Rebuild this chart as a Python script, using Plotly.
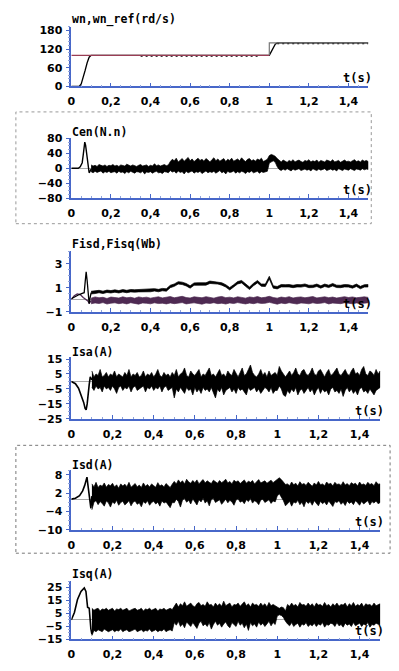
import numpy as np
import plotly.graph_objects as go

W, H = 399, 671

# ---------------- data ----------------
x_ticks = [0, 0.2, 0.4, 0.6, 0.8, 1.0, 1.2, 1.4]
x_labels = ["0", "0,2", "0,4", "0,6", "0,8", "1", "1,2", "1,4"]

# speed
t_wn = [0, 0.04, 0.05, 0.06, 0.07, 0.08, 0.09, 0.10, 1.00, 1.01, 1.02, 1.03, 1.04, 1.50]
wn = [0, 0, 8, 27, 52, 76, 94, 100, 100, 112, 126, 136, 140, 140]
t_ref = [0, 1.0, 1.0, 1.5]
wn_ref = [100, 100, 140, 140]
t_ripple = [0.35, 0.95, None, 1.04, 1.5]
wn_ripple = [98, 98, None, 138.5, 138.5]

# sample times of the noise envelopes
t_band = np.round(np.linspace(0.10, 1.50, 71), 2)    # flux envelopes
t_fine = np.round(np.linspace(0.10, 1.50, 141), 2)   # torque / current envelopes

# Cen
t_cen_tr = [0, 0.035, 0.045, 0.055, 0.06, 0.065, 0.068, 0.072, 0.078, 0.083, 0.087, 0.09, 0.095, 0.10]
cen_tr = [0, 0, 4, 15, 35, 55, 70, 62, 40, 20, 0, -12, -8, -2]
cen_up = [9, 6, 8, 5, 10, 7, 6, 9, 5, 8, 7, 10, 6, 8, 5, 9, 7, 6, 11, 8,
          6, 9, 7, 5, 8, 10, 6, 7, 9, 5, 8, 6, 12, 7, 9, 6, 8, 10, 7, 9,
          18, 24, 20, 27, 17, 22, 26, 19, 23, 29, 20, 25, 18, 22, 27, 21, 24, 19, 26, 22,
          17, 23, 28, 20, 25, 19, 22, 26, 18, 24, 21, 27, 19, 23, 25, 20, 28, 22, 18, 24,
          26, 20, 23, 19, 25, 22, 27, 18, 21, 24,
          34, 37, 35, 32, 26,
          20, 17, 22, 19, 16, 21, 18, 23, 17, 20, 22, 18, 16, 21, 19, 23, 17, 20, 18, 22,
          16, 21, 19, 17, 22, 20, 18, 23, 17, 19, 21, 16, 20, 22, 18, 19, 17, 21, 23, 18,
          20, 17, 22, 19, 21, 18]
cen_lo = [-9, -12, -8, -11, -10, -7, -13, -9, -11, -8, -12, -10, -9, -13, -8, -11, -10, -14, -9, -12,
          -8, -11, -13, -9, -10, -12, -8, -15, -10, -11, -9, -13, -10, -8, -12, -11, -14, -9, -10, -12,
          -6, -10, -8, -13, -7, -11, -9, -15, -8, -12, -10, -7, -13, -9, -11, -8, -14, -10, -7, -12,
          -9, -11, -8, -13, -10, -6, -12, -9, -15, -8, -11, -10, -7, -13, -9, -12, -8, -10, -14, -9,
          -11, -7, -12, -10, -8, -13, -9, -11, -10, -8,
          14, 18, 20, 16, 4,
          -3, -6, -2, -5, -1, -4, -7, -2, -5, -3, -1, -6, -4, -2, -5, -3, -7, -1, -4, -6,
          -2, -5, -3, -1, -6, -4, -2, -5, -3, -7, -1, -4, -6, -2, -3, -5, -1, -4, -6, -2,
          -3, -5, -1, -4, -2, -3]

# Fisd / Fisq
t_fisd_tr = [0, 0.02, 0.04, 0.055, 0.065, 0.07, 0.075, 0.08, 0.085, 0.09, 0.095, 0.10]
fisd_tr = [0.1, 0.3, 0.45, 0.55, 0.6, 1.5, 2.35, 1.6, 0.3, -0.3, 0.2, 0.6]
t_fisq_tr = [0, 0.015, 0.03, 0.045, 0.06, 0.075, 0.085, 0.09, 0.095, 0.10]
fisq_tr = [0.05, 0.35, 0.5, 0.45, 0.2, 0.05, -0.1, -0.3, -0.1, -0.05]
fisd_up = [0.72, 0.73, 0.80, 0.73, 0.82, 0.78, 0.84, 0.78, 0.86, 0.80, 0.87, 0.85, 0.87, 0.86, 0.89, 0.88, 0.94, 0.88, 0.96, 0.93,
           1.22, 1.33, 1.52, 1.48, 1.37, 1.18, 1.42, 1.43, 1.42, 1.43, 1.57, 1.53, 1.52, 1.43, 1.27, 1.03, 1.27, 1.53, 1.62, 1.33, 1.07, 1.38, 1.62, 1.33, 1.32,
           1.97, 1.18, 1.12,
           1.28, 1.27, 1.28, 1.22, 1.28, 1.27, 1.33, 1.22, 1.23, 1.32, 1.18, 1.32, 1.23, 1.37, 1.23, 1.22, 1.28, 1.27, 1.18, 1.32, 1.13, 1.27, 1.28]
fisd_lo = [0.50, 0.53, 0.60, 0.53, 0.62, 0.58, 0.64, 0.58, 0.66, 0.60, 0.67, 0.65, 0.67, 0.66, 0.69, 0.68, 0.74, 0.68, 0.76, 0.73,
           1.02, 1.13, 1.32, 1.28, 1.17, 0.98, 1.22, 1.23, 1.22, 1.23, 1.37, 1.33, 1.32, 1.23, 1.07, 0.83, 1.07, 1.33, 1.42, 1.13, 0.87, 1.18, 1.42, 1.13, 1.12,
           1.75, 0.98, 0.92,
           1.08, 1.07, 1.08, 1.02, 1.08, 1.07, 1.13, 1.02, 1.03, 1.12, 0.98, 1.12, 1.03, 1.17, 1.03, 1.02, 1.08, 1.07, 0.98, 1.12, 0.93, 1.07, 1.08]
fisq_up = [0.15, 0.25, 0.18, 0.22, 0.12, 0.24, 0.20, 0.16, 0.26, 0.18, 0.22, 0.14, 0.25, 0.19, 0.23, 0.15, 0.21, 0.26, 0.17, 0.22,
           0.28, 0.18, 0.24, 0.30, 0.20, 0.16, 0.26, 0.22, 0.18, 0.27, 0.21, 0.15, 0.24, 0.29, 0.19, 0.23, 0.17, 0.26, 0.21, 0.15, 0.25, 0.20, 0.28, 0.18, 0.22,
           0.30, 0.20, 0.15,
           0.24, 0.19, 0.27, 0.16, 0.22, 0.25, 0.18, 0.23, 0.28, 0.17, 0.21, 0.26, 0.19, 0.24, 0.16, 0.22, 0.27, 0.20, 0.25, 0.18, 0.23, 0.26, 0.21]
fisq_lo = [-0.32, -0.25, -0.30, -0.22, -0.34, -0.27, -0.24, -0.31, -0.26, -0.33, -0.23, -0.29, -0.35, -0.25, -0.28, -0.32, -0.24, -0.30, -0.27, -0.33,
           -0.25, -0.31, -0.27, -0.22, -0.33, -0.28, -0.24, -0.30, -0.35, -0.26, -0.29, -0.23, -0.31, -0.27, -0.34, -0.25, -0.30, -0.22, -0.28, -0.33, -0.26, -0.31, -0.24, -0.29, -0.27,
           -0.20, -0.30, -0.35,
           -0.26, -0.31, -0.23, -0.29, -0.34, -0.25, -0.28, -0.32, -0.24, -0.30, -0.27, -0.22, -0.33, -0.26, -0.29, -0.31, -0.24, -0.28, -0.32, -0.25, -0.30, -0.27, -0.23]

# Isa
t_isa_tr = [0, 0.02, 0.035, 0.05, 0.06, 0.067, 0.072, 0.077, 0.082, 0.087, 0.092, 0.10]
isa_tr = [0, -1.5, -4.5, -10, -14, -18, -19, -15, -7, -2, 3, 1]
isa_up = [7, 3, 5, 4, 8, 3, 4, 6, 3, 5, 4, 7, 3, 5, 4, 3, 6, 4, 8, 3,
          5, 4, 6, 3, 4, 7, 3, 5, 4, 6, 3, 5, 8, 4, 3, 6, 4, 5, 3, 6,
          4, 8, 3, 5, 6, 9, 4, 3, 7, 5, 4, 6, 8, 3, 5, 4, 7, 9, 4, 5,
          3, 6, 8, 4, 5, 3, 7, 5, 4, 8, 5, 3, 6, 9, 4, 5, 8, 11, 6, 4,
          3, 5, 8, 4, 6, 3, 7, 4, 5, 6,
          4, 10, 7, 5, 3,
          5, 7, 4, 6, 9, 5, 4, 7, 8, 5, 4, 6, 9, 5, 4, 7, 8, 5, 3, 6,
          8, 4, 5, 7, 9, 5, 4, 6, 8, 5, 4, 7, 9, 5, 6, 4, 8, 10, 5, 4,
          7, 6, 4, 8, 5, 7]
isa_lo = [-4, -6, -3, -5, -4, -7, -3, -5, -4, -6, -3, -5, -8, -4, -3, -6, -4, -5, -3, -7,
          -4, -3, -6, -5, -4, -3, -7, -4, -5, -3, -6, -4, -5, -3, -7, -4, -3, -6, -5, -4,
          -11, -5, -7, -4, -6, -8, -4, -6, -5, -9, -4, -7, -5, -8, -4, -6, -5, -7, -4, -8,
          -11, -5, -7, -4, -9, -6, -5, -4, -7, -5, -8, -4, -6, -5, -7, -9, -4, -6, -5, -4,
          -7, -5, -8, -6, -4, -5, -7, -4, -8, -6,
          -6, -3, -5, -9, -10,
          -6, -8, -5, -7, -4, -9, -6, -5, -8, -6, -4, -7, -5, -9, -6, -4, -8, -5, -7, -6,
          -9, -5, -4, -7, -6, -8, -5, -10, -6, -4, -7, -5, -8, -6, -9, -5, -4, -7, -6, -8,
          -5, -7, -9, -6, -5, -4]

# Isd
t_isd_tr = [0, 0.02, 0.04, 0.055, 0.065, 0.072, 0.076, 0.08, 0.085, 0.09, 0.095, 0.10]
isd_tr = [0, 0.3, 1.1, 2.7, 4.5, 6.5, 7.2, 5, 2, -1.5, -3, 1]
isd_up = [5.0, 4.0, 5.5, 3.8, 4.6, 4.2, 5.3, 3.9, 4.8, 4.4, 5.2, 4.0, 4.7, 3.6, 5.0, 4.3, 4.9, 4.1, 5.5, 3.9,
          4.5, 5.1, 4.0, 4.6, 3.8, 5.3, 4.2, 4.8, 4.0, 5.0, 4.4, 3.9, 5.4, 4.3, 4.7, 4.0, 5.1, 4.4, 3.8, 4.9,
          5.8, 5.0, 6.3, 5.4, 6.0, 5.0, 6.5, 5.6, 5.2, 6.1, 5.4, 6.3, 5.0, 5.8, 6.4, 5.3, 6.0, 5.5, 5.1, 6.2,
          5.7, 5.2, 6.1, 5.4, 5.9, 6.5, 5.3, 5.8, 5.0, 6.2, 5.6, 6.0, 5.1, 5.7, 6.3, 5.2, 5.9, 5.5, 6.1, 5.0,
          5.8, 6.4, 5.3, 5.6, 6.0, 5.2, 5.8, 6.2, 5.4, 5.9,
          6.5, 7.0, 6.4, 5.5, 4.8,
          5.0, 4.4, 5.6, 4.7, 5.2, 4.3, 5.7, 4.8, 5.1, 4.5, 5.5, 4.9, 4.2, 5.3, 4.6, 5.8, 4.7, 5.0, 4.4, 5.6,
          4.9, 5.2, 4.3, 5.5, 4.8, 5.0, 4.5, 5.7, 4.6, 5.1, 4.4, 5.4, 4.9, 5.2, 4.3, 5.6, 4.7, 5.0, 4.5, 5.5,
          4.8, 5.1, 4.4, 5.7, 4.9, 5.0]
isd_lo = [-3.5, -1.0, -0.5, -1.8, -0.8, -1.4, -2.3, -0.6, -1.2, -2.6, -0.9, -1.5, -0.4, -2.0, -1.1, -0.7, -1.9, -1.3, -0.5, -2.2,
          -1.0, -0.6, -1.7, -1.2, -2.5, -0.8, -1.4, -0.5, -2.0, -1.1, -0.7, -1.6, -1.0, -2.3, -0.6, -1.3, -0.9, -1.8, -2.8, -1.1,
          -1.2, 0.0, -0.8, -2.6, -0.3, 0.2, -1.0, -0.4, -1.6, 0.1, -0.7, -1.9, -0.2, -0.9, 0.3, -1.3, -0.5, -2.2, -0.1, 0.2,
          -1.1, -0.6, -0.2, -1.7, -0.8, 0.0, -1.2, -0.4, -0.9, -2.0, -0.3, 0.1, -1.0, -0.6, -1.5, -0.2, -0.8, 0.2, -1.3, -0.5,
          -0.9, -1.8, -0.3, 0.0, -1.1, -0.7, -0.2, -1.4, -0.6, -0.9,
          1.0, 1.8, 0.8, -0.5, -2.2,
          -1.5, -0.7, -2.3, -0.9, -1.3, -0.4, -1.8, -1.0, -2.5, -0.6, -1.4, -0.8, -2.0, -0.5, -1.2, -2.2, -0.7, -1.5, -0.9, -1.9,
          -0.6, -1.3, -2.4, -0.8, -1.1, -0.5, -1.7, -1.0, -2.1, -0.6, -1.4, -0.9, -1.8, -0.5, -1.2, -2.0, -0.7, -1.6, -1.0, -0.5,
          -1.9, -0.8, -1.3, -0.6, -1.5, -1.1]

# Isq
t_isq_tr = [0, 0.015, 0.03, 0.047, 0.063, 0.071, 0.079, 0.087, 0.095, 0.10]
isq_tr = [0, 5.8, 15.8, 22, 24.7, 22, 9.8, 9, -6.8, -11]
isq_up = [9, 7.5, 8.5, 9, 7, 8.5, 8, 9, 7.5, 8, 9, 7, 8.5, 8, 9, 7.5, 8.5, 9, 7, 8,
          8.5, 9, 7.5, 8, 9, 7, 8.5, 8, 9, 7.5, 8, 9, 7, 8.5, 8, 9, 7.5, 8.5, 9, 8,
          11, 13, 10, 12.5, 11, 14, 10.5, 12, 13, 11, 10, 12.5, 13.5, 11, 12, 10.5, 14, 11.5, 12, 10,
          13, 11, 12.5, 10.5, 14.5, 11, 12, 13, 10, 12, 11.5, 13, 10.5, 12, 14, 11, 12.5, 10, 13, 11.5,
          12, 10.5, 13, 11, 12.5, 10, 13.5, 11, 12, 11,
          10, 9, 10, 9.5, 7,
          12, 10.5, 13, 11, 12, 10, 13.5, 11.5, 12, 10.5, 13, 11, 12.5, 10, 13, 11.5, 12, 10.5, 13.5, 11,
          12, 10, 12.5, 11, 13, 10.5, 12, 11.5, 13, 10, 12.5, 11, 13.5, 10.5, 12, 11, 13, 10, 12.5, 11.5,
          12, 10.5, 13, 11, 12, 12.5]
isq_lo = [-12, -8, -9, -7.5, -8.5, -9, -7, -8, -9, -8.5, -7.5, -9, -8, -8.5, -7, -9, -8, -7.5, -9, -8.5,
          -8, -7, -9, -8.5, -7.5, -9, -8, -8.5, -7, -9, -8.5, -7.5, -9, -8, -8.5, -7, -9, -8, -7.5, -8.5,
          -2, -4, -1, -5, -3, -6, -1.5, -3.5, -5, -2, -4, -6.5, -2.5, -1, -4.5, -3, -5, -2, -7, -3.5,
          -1, -4, -2.5, -5.5, -3, -1.5, -4.5, -6, -2, -3.5, -5, -1, -4, -2.5, -6, -3, -8, -2, -4.5, -3,
          -5.5, -1.5, -4, -2.5, -5, -3, -1, -4.5, -2, -3.5,
          3, 4, 3.5, 2, -1,
          -3, -4.5, -2, -5, -3.5, -2.5, -5.5, -3, -4, -2, -5, -3.5, -4.5, -2.5, -5, -3, -4, -2, -5.5, -3.5,
          -4, -2.5, -3, -5, -2, -4.5, -3.5, -5.5, -2.5, -4, -3, -5, -2, -4.5, -3.5, -2.5, -5, -3, -4, -2,
          -5.5, -3.5, -4, -2.5, -3, -4]

for _name, _arr, _n in [("cen_up", cen_up, 141), ("cen_lo", cen_lo, 141), ("isa_up", isa_up, 141),
                        ("isa_lo", isa_lo, 141), ("isd_up", isd_up, 141), ("isd_lo", isd_lo, 141),
                        ("isq_up", isq_up, 141), ("isq_lo", isq_lo, 141), ("fisd_up", fisd_up, 71),
                        ("fisd_lo", fisd_lo, 71), ("fisq_up", fisq_up, 71), ("fisq_lo", fisq_lo, 71)]:
    if len(_arr) != _n:
        raise ValueError(f"{_name} has {len(_arr)} values, expected {_n}")

# ---------------- helpers ----------------
def px_x(p):
    return p / W

def px_y(p):
    return 1 - p / H

BLUE = "#4767c9"
LBLUE = "#8fa3dc"
GRAY = "#a8a8a8"
TF = dict(family="DejaVu Sans", size=11, color="black", weight="bold")

panels = [
    (68, 368, 21, 82),
    (68, 368, 135, 196),
    (68, 368, 250, 312),
    (68, 380, 358, 421),
    (68, 380, 473, 534),
    (68, 380, 586, 646),
]
yranges = [[0, 192.6], [-80, 80], [-1, 4.06], [-25, 16.3], [-10, 9.6], [-15, 30.3]]
yticks = [[0, 60, 120, 180], [-80, -40, 0, 40, 80], [-1, 1, 3],
          [-25, -15, -5, 5, 15], [-10, -4, 2, 8], [-15, -5, 5, 15, 25]]
yminor = [12, 10, 0.5, 2.5, 1.5, 2.5]
titles = ["wn,wn_ref(rd/s)", "Cen(N.n)", "Fisd,Fisq(Wb)", "Isa(A)", "Isd(A)", "Isq(A)"]
title_y = [14, 128, 243, 353, 468, 579]

fig = go.Figure()

def add(trace, k):
    trace.update(xaxis="x" if k == 0 else f"x{k+1}", yaxis="y" if k == 0 else f"y{k+1}")
    fig.add_trace(trace)

def band(t, up, lo, color, k, w=0.7):
    xs = list(t) + list(t[::-1])
    ys = list(up) + list(lo[::-1])
    add(go.Scatter(x=xs, y=ys, mode="lines", fill="toself", fillcolor=color,
                   line=dict(color=color, width=w)), k)

# panel 1
add(go.Scatter(x=t_wn, y=wn, mode="lines", line=dict(color="black", width=1.3)), 0)
add(go.Scatter(x=t_ripple, y=wn_ripple, mode="lines", line=dict(color="black", width=1.5, dash="2px,3px")), 0)
add(go.Scatter(x=t_ref[:2], y=wn_ref[:2], mode="lines", line=dict(color="#9a3d55", width=1.2)), 0)
add(go.Scatter(x=t_ref[1:], y=wn_ref[1:], mode="lines", line=dict(color="#777777", width=1.2)), 0)

# panel 2
add(go.Scatter(x=t_cen_tr, y=cen_tr, mode="lines", line=dict(color="black", width=1.4)), 1)
band(t_fine, cen_up, cen_lo, "black", 1)

# panel 3
add(go.Scatter(x=t_fisq_tr, y=fisq_tr, mode="lines", line=dict(color="#4e2a52", width=1.3)), 2)
band(t_band, fisq_up, fisq_lo, "#4e2a52", 2)
add(go.Scatter(x=t_fisd_tr, y=fisd_tr, mode="lines", line=dict(color="black", width=1.3)), 2)
band(t_band, fisd_up, fisd_lo, "black", 2)

# panels 4-6
for k, (tt, vv, up, lo) in enumerate([(t_isa_tr, isa_tr, isa_up, isa_lo),
                                      (t_isd_tr, isd_tr, isd_up, isd_lo),
                                      (t_isq_tr, isq_tr, isq_up, isq_lo)]):
    add(go.Scatter(x=tt, y=vv, mode="lines", line=dict(color="black", width=1.6)), k + 3)
    band(t_fine, up, lo, "black", k + 3)

layout = dict(width=W, height=H, margin=dict(l=0, r=0, t=0, b=0),
              paper_bgcolor="white", plot_bgcolor="white", showlegend=False)

annotations = []
for k, (xl, xr, yt, yb) in enumerate(panels):
    sx = "" if k == 0 else str(k + 1)
    layout[f"xaxis{sx}"] = dict(
        domain=[px_x(xl), px_x(xr)], range=[0, 1.5], anchor=f"y{sx}",
        showline=True, linecolor=BLUE, linewidth=1.5,
        tickmode="array", tickvals=x_ticks, ticktext=x_labels,
        ticks="inside", ticklen=4, tickcolor=BLUE, tickwidth=1,
        minor=dict(dtick=0.05, tick0=0, ticks="inside", ticklen=2, tickcolor=LBLUE),
        showgrid=False, zeroline=False, tickfont=TF, ticklabelstandoff=4,
    )
    layout[f"yaxis{sx}"] = dict(
        domain=[px_y(yb), px_y(yt)], range=yranges[k], anchor=f"x{sx}",
        showline=True, linecolor=BLUE, linewidth=1.5,
        tickmode="array", tickvals=yticks[k],
        ticks="outside", ticklen=4, tickcolor=BLUE, tickwidth=1,
        minor=dict(dtick=yminor[k], tick0=yranges[k][0], ticks="outside", ticklen=2, tickcolor=LBLUE),
        showgrid=False, zeroline=(k != 0), zerolinecolor=GRAY, zerolinewidth=1,
        tickfont=TF, ticklabelstandoff=1,
    )
    annotations.append(dict(text=titles[k], xref="paper", yref="paper", x=px_x(xl - 1), y=px_y(title_y[k]),
                            xanchor="left", yanchor="middle", showarrow=False,
                            font=dict(family="DejaVu Sans Mono", size=11.5, color="black", weight="bold")))
    annotations.append(dict(text="t(s)", xref="paper", yref="paper", x=px_x(xr + 6), y=px_y(yb + 1),
                            xanchor="right", yanchor="bottom", showarrow=False,
                            font=dict(family="DejaVu Sans Mono", size=12, color="black", weight="bold")))

layout["annotations"] = annotations
layout["shapes"] = [
    dict(type="rect", xref="paper", yref="paper", x0=px_x(12), x1=px_x(371), y0=px_y(222), y1=px_y(108),
         line=dict(color="#999999", width=1, dash="dot")),
    dict(type="rect", xref="paper", yref="paper", x0=px_x(12), x1=px_x(390), y0=px_y(558), y1=px_y(448),
         line=dict(color="#777777", width=1, dash="dot")),
]
fig.update_layout(**layout)
fig.write_html("out.html", config={"displayModeBar": False},
               post_script="document.body.style.margin='0';document.body.style.overflow='hidden';")
